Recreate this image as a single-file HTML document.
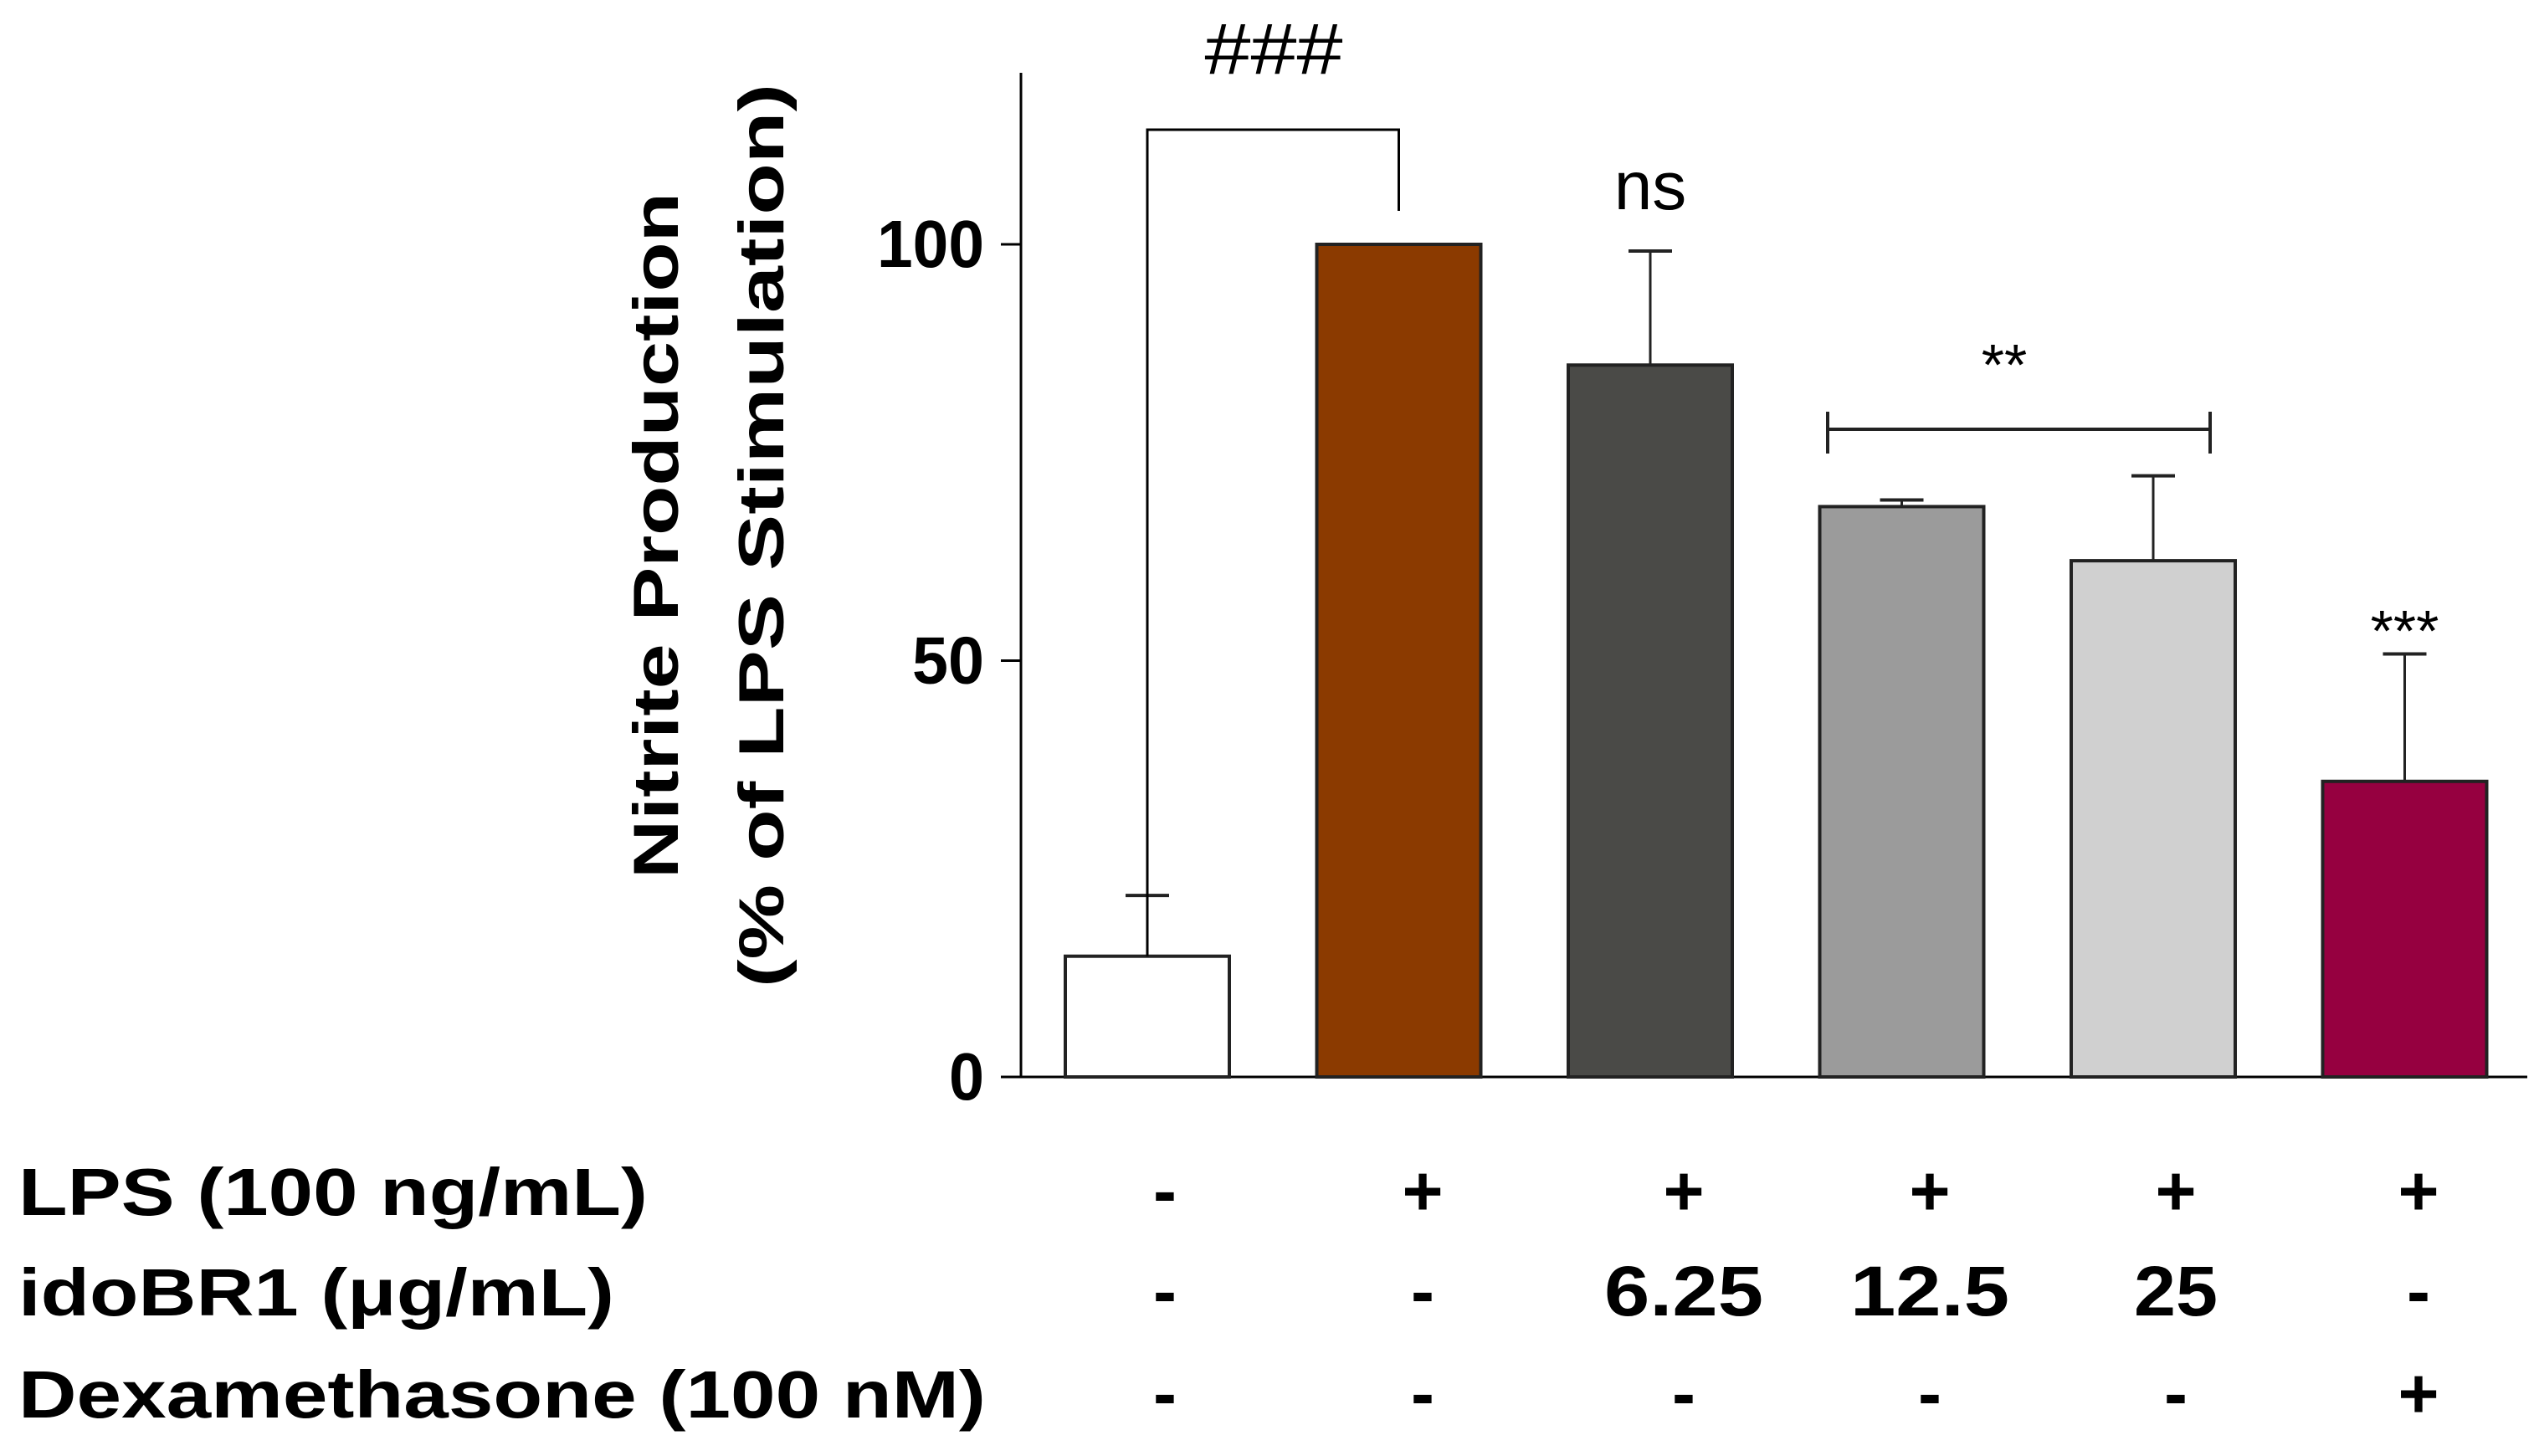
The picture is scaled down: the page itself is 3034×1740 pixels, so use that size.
<!DOCTYPE html>
<html><head><meta charset="utf-8"><style>html,body{margin:0;padding:0;background:#fff}svg{display:block}text{font-family:"Liberation Sans",Arial,sans-serif}</style></head>
<body>
<svg id="chart" width="3034" height="1740" viewBox="0 0 3034 1740">
<g id="axes"></g>
<g id="bars"></g>
<g id="annot"></g>
<g id="table"></g>
</svg>
<script>
const categories = ["Control","LPS","idoBR1 6.25","idoBR1 12.5","idoBR1 25","Dexamethasone"];
const values = [14.5, 100, 85.5, 68.5, 62, 35.5];
const errors = [21.8, 100, 99.2, 69.3, 72.2, 50.8];
const colors = ["#ffffff","#8b3a00","#4a4a47","#9b9b9b","#d0d0d0","#960040"];
const yTicks = [0, 50, 100];
const rowLabels = ["LPS (100 ng/mL)","idoBR1 (\u03BCg/mL)","Dexamethasone (100 nM)"];
const rowLPS = ["-","+","+","+","+","+"];
const rowIdo = ["-","-","6.25","12.5","25","-"];
const rowDex = ["-","-","-","-","-","+"];

const NS="http://www.w3.org/2000/svg";
const y0=1287, yScale=9.95;
function y(v){return y0-v*yScale;}
function xc(i){return 1371+i*300.5;}
const bw=196;
function mk(tag,attrs,parent,txt){const e=document.createElementNS(NS,tag);for(const k in attrs)e.setAttribute(k,attrs[k]);if(txt!==undefined)e.textContent=txt;parent.appendChild(e);return e;}
const axes=document.getElementById('axes'),bars=document.getElementById('bars'),annot=document.getElementById('annot'),table=document.getElementById('table');

let e=mk('line',{x1:1220,y1:87,x2:1220,y2:y0,stroke:'#000','stroke-width':3},axes);


e=mk('line',{x1:1220,y1:y0,x2:3020,y2:y0,stroke:'#000','stroke-width':3},axes);


yTicks.forEach(t=>{
 let l=mk('line',{x1:1196,y1:y(t),x2:1220,y2:y(t),stroke:'#000','stroke-width':3},axes);
 
 
 let tx=mk('text',{x:1176,y:y(t)+27,'text-anchor':'end','font-size':80,'font-weight':'bold'},axes,String(t));
 tx.setAttribute('textLength',t==0?42:(t==50?86:128));
 tx.setAttribute('lengthAdjust','spacingAndGlyphs');
 
 
});
let t1=mk('text',{x:0,y:0,'text-anchor':'middle','font-size':76,'font-weight':'bold',transform:'translate(810,640) rotate(-90)',textLength:820,lengthAdjust:'spacingAndGlyphs'},axes,'Nitrite Production');


let t2=mk('text',{x:0,y:0,'text-anchor':'middle','font-size':76,'font-weight':'bold',transform:'translate(936,640) rotate(-90)',textLength:1080,lengthAdjust:'spacingAndGlyphs'},axes,'(% of LPS Stimulation)');



values.forEach((v,i)=>{
 const cx=xc(i);
 let el=mk('line',{x1:cx,y1:y(v),x2:cx,y2:y(errors[i]),stroke:'#222','stroke-width':3},bars);
 
 
 if(i!==1){let cap=mk('line',{x1:cx-26,y1:y(errors[i]),x2:cx+26,y2:y(errors[i]),stroke:'#222','stroke-width':4},bars);
 
 }
 let r=mk('rect',{x:cx-bw/2,y:y(v),width:bw,height:y0-y(v),fill:colors[i],stroke:'#222','stroke-width':4},bars);
 
 
});
let br=mk('polyline',{points:`${xc(0)},${y(values[0])} ${xc(0)},155 ${xc(1)},155 ${xc(1)},252`,fill:'none',stroke:'#000','stroke-width':3},annot);


let h=mk('text',{x:1522,y:88,'text-anchor':'middle','font-size':86,textLength:165,lengthAdjust:'spacingAndGlyphs'},annot,'###');


let ns=mk('text',{x:xc(2),y:250,'text-anchor':'middle','font-size':82},annot,'ns');


let b2=mk('path',{d:'M2184 513 H2641 M2184 492 V542 M2641 492 V542',stroke:'#222','stroke-width':4,fill:'none'},annot);


let s2=mk('text',{x:2395,y:460,'text-anchor':'middle','font-size':70},annot,'**');


let s3=mk('text',{x:xc(5),y:778,'text-anchor':'middle','font-size':70},annot,'***');



const rows=[rowLPS,rowIdo,rowDex], rowY=[1452,1572,1694], lw=[752,712,1156];
const colX=[1392,1700,2012,2306,2600,2890];
rows.forEach((row,ri)=>{
 let lab=mk('text',{x:22,y:rowY[ri],'font-size':80,'font-weight':'bold',textLength:lw[ri],lengthAdjust:'spacingAndGlyphs'},table,rowLabels[ri]);
 
 
 row.forEach((s,ci)=>{
  let c=mk('text',{x:colX[ci],y:rowY[ri],'text-anchor':'middle','font-size':84,'font-weight':'bold'},table,s);
  if(s.length>1){c.setAttribute('textLength',s.length==4?190:(s.length==2?100:185));c.setAttribute('lengthAdjust','spacingAndGlyphs');}
  
  
 });
});
</script>
</body></html>
